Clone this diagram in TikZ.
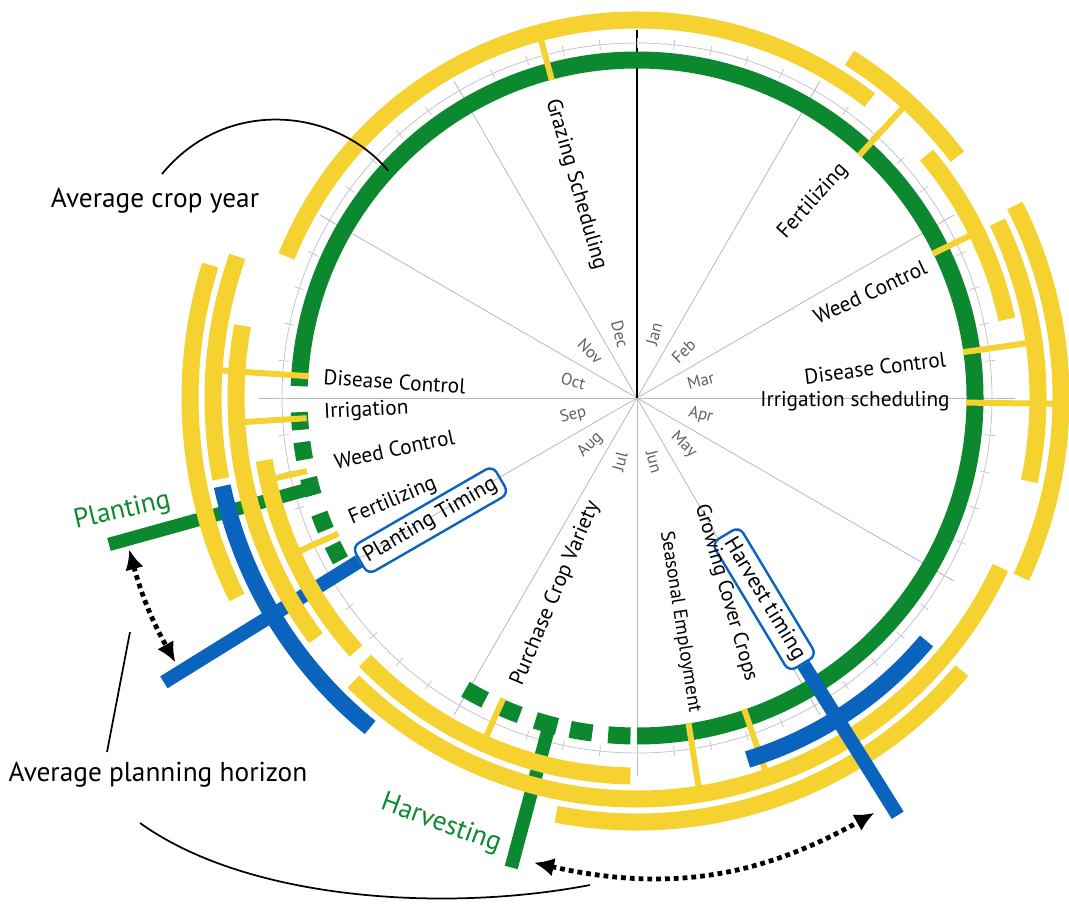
\documentclass[tikz,border=0pt]{standalone}
\usepackage{fontspec}
\setmainfont{PT Sans}
\usetikzlibrary{arrows.meta, positioning, calc}

\definecolor{cropgreen}{RGB}{12,137,46}
\definecolor{cropyellow}{RGB}{245,210,48}
\definecolor{cropblue}{RGB}{10,100,190}

\begin{document}
\begin{tikzpicture}[
            x=0.75pt, y=0.75pt,
            monthline/.style={draw=gray!55, line width=0.6pt},
            tickmark/.style={draw=gray!45, line width=0.6pt},
            ring/.style={draw=cropgreen, line width=12.75pt},
            band/.style={draw=cropyellow, line width=12.75pt},
            spoke/.style={draw=cropyellow, line width=4.5pt},
            bluebar/.style={draw=cropblue, line width=10.5pt},
            bluearc/.style={draw=cropblue, line width=12.75pt},
            greenbar/.style={draw=cropgreen, line width=10pt},
            activity/.style={font=\fontsize{16}{18}\selectfont, inner sep=1pt},
            month/.style={font=\fontsize{12.5}{14}\selectfont, text=gray!75!black, inner sep=0pt},
            timebox/.style={draw=cropblue, line width=1.8pt, rounded corners=6pt,
                            font=\fontsize{16.5}{18}\selectfont, inner sep=4.5pt},
            phase/.style={font=\fontsize{20.5}{24}\selectfont, text=cropgreen},
            note/.style={font=\fontsize{20.5}{24}\selectfont},
            leader/.style={draw=black, line width=1.3pt},
            dotarrow/.style={draw=black, line width=3.6pt, dash pattern=on 3.6pt off 3pt,
                             {Latex[length=15pt,width=14pt]}-{Latex[length=15pt,width=14pt]}}
        ]

        \useasboundingbox (0,0) rectangle (1069,907);

        \begin{scope}[shift={(637,509)}]

        % ===== MONTH GRID =====
        \foreach \a in {30,60,120,150,210,240,300,330}
            \draw[monthline] (0,0) -- (\a:366);
        \draw[monthline] (0,0) -- (0:378);
        \draw[monthline] (0,0) -- (180:378);
        \draw[monthline] (0,0) -- (270:378);
        \draw[black, line width=0.8pt] (0,0) -- (90:368);

        % week ticks on the thin circle
        \draw[tickmark] (0,0) circle[radius=355];
        \foreach \t in {0,6,...,354}
            \draw[tickmark] (\t:350) -- (\t:360);

        % ===== GREEN CROP YEAR =====
        \draw[ring] (-90:338) arc[start angle=-90, end angle=178, radius=338];
        \foreach \a in {183.9,189,195.2,201.5,207.2}
            \draw[ring] ({\a-1.5}:338) arc[start angle=\a-1.5, end angle=\a+1.5, radius=338];
        \foreach \a in {241.4,247.8,254.4,260.5,267}
            \draw[ring] ({\a-1.9}:338) arc[start angle=\a-1.9, end angle=\a+1.9, radius=338];

        % ===== PLANTING / HARVESTING BARS (behind the bands) =====
        \coordinate (plantEnd) at (195.5:548);
        \coordinate (harvEnd) at (255:486);
        \draw[greenbar] (195.5:331) -- (plantEnd);
        \draw[greenbar] (255:331) -- (harvEnd);

        \node[timebox, rotate=30] (plantTime) at (210.6:240) {Planting Timing};
        \coordinate (ptEnd) at (211:552);
        \draw[bluebar] (plantTime.west) -- (ptEnd);

        % ===== ACTIVITY SPOKES =====
        \draw[spoke] (105:329) -- (105:371);     % grazing
        \draw[spoke] (47.5:329) -- (47.5:394);   % fertilizing
        \draw[spoke] (26:329) -- (26:371);       % weed control
        \draw[spoke] (8:329) -- (8:394);         % disease control
        \draw[spoke] (-0.8:329) -- (-0.8:417);   % irrigation scheduling
        \draw[spoke] (176.2:329) -- (176.2:417); % disease control (left)
        \draw[spoke] (183.5:331) -- (183.5:394); % irrigation (left)
        \draw[spoke] (192.5:338) -- (192.5:371); % weed control (left)
        \draw[spoke] (204.4:328) -- (204.4:371); % fertilizing (left)
        \draw[spoke] (-114:329) -- (-114:371);   % purchase crop variety
        \draw[spoke] (-81:329) -- (-81:394);     % seasonal employment
        \draw[spoke] (-71:329) -- (-71:394);     % growing cover crops

        % ===== YELLOW ACTIVITY PERIODS =====
        % row 1 (r=378)
        \draw[band] (52:378) arc[start angle=52, end angle=158, radius=378];
        \draw[band] (12:378) arc[start angle=12, end angle=40, radius=378];
        \draw[band] (189.5:378) arc[start angle=189.5, end angle=222, radius=378];
        \draw[band] (224:378) arc[start angle=224, end angle=269, radius=378];
        % row 2 (r=401)
        \draw[band] (37:401) arc[start angle=37, end angle=58, radius=401];
        \draw[band] (-12:401) arc[start angle=-12, end angle=26, radius=401];
        \draw[band] (169.6:401) arc[start angle=169.6, end angle=216.8, radius=401];
        \draw[band] (225:401) arc[start angle=225, end angle=335, radius=401];
        % row 3 (r=424)
        \draw[band] (-25:424) arc[start angle=-25, end angle=27, radius=424];
        \draw[band] (160.5:424) arc[start angle=160.5, end angle=191, radius=424];
        \draw[band] (259:424) arc[start angle=259, end angle=320, radius=424];
        % row 4 (r=447)
        \draw[band] (162.7:447) arc[start angle=162.7, end angle=206.5, radius=447];

        % ===== BLUE PLANNING HORIZONS =====
        \draw[bluearc] (192:424) arc[start angle=192, end angle=231, radius=424];
        \draw[bluearc] (-73:378) arc[start angle=-73, end angle=-40, radius=378];

        \node[timebox, fill=white, rotate=-59] (harvTime) at (-57.7:238) {Harvest timing};
        \coordinate (htEnd) at (-58:492);
        \draw[bluebar] (harvTime.east) -- (htEnd);

        % ===== ACTIVITY LABELS =====
        \node[activity, rotate=-74] (grazing) at (106:222) {Grazing Scheduling};
        \node[activity, rotate=48] (fertR) at (48.2:264) {Fertilizing};
        \node[activity, rotate=25] (weedR) at (24.4:256) {Weed Control};
        \node[activity, rotate=7] (diseaseR) at (7.2:240) {Disease Control};
        \node[activity] (irrigR) at (-0.8:218) {Irrigation scheduling};
        \node[activity, rotate=-3.8] (diseaseL) at (176.2:243) {Disease Control};
        \node[activity, rotate=2.7] (irrigL) at (182.7:271) {Irrigation};
        \node[activity, rotate=12] (weedL) at (191.9:248) {Weed Control};
        \node[activity, rotate=23] (fertL) at (202.9:265) {Fertilizing};
        \node[activity, rotate=67] (purchase) at (247.4:212) {Purchase Crop Variety};
        \node[activity, font=\fontsize{14.5}{16}\selectfont, rotate=-81] (seasonal) at (-79.1:228) {Seasonal Employment};
        \node[activity, font=\fontsize{15.5}{17}\selectfont, rotate=-74] (cover) at (-65.5:214) {Growing Cover Crops};

        % ===== MONTHS =====
        \foreach \m/\a/\r in {Jan/75/75, Feb/45/45, Mar/15/15, Apr/-15/-15, May/-45/-45, Jun/-75/-75,
                              Jul/-105/75, Aug/-135/45, Sep/-165/15, Oct/165/-15, Nov/135/-45, Dec/105/-75}
            \node[month, rotate=\r] (m\m) at (\a:66) {\m};

        % ===== PHASE LABELS AND ARROWS =====
        \node[phase, rotate=13] (planting) at (192.4:527) {Planting};
        \node[phase, rotate=-20] (harvesting) at (245.3:469) {Harvesting};

        \coordinate (plantTip) at (196.6:530);
        \coordinate (ptTip) at (209.8:532);
        \draw[dotarrow] (plantTip) to[bend right=7] (ptTip);

        \coordinate (harvTip) at (257.5:476);
        \coordinate (htTip) at (299.8:478);
        \draw[dotarrow] (harvTip) to[bend right=21] (htTip);

        \coordinate (cyRing) at (137.6:337);
        \end{scope}

        % ===== NOTES =====
        \node[note] (cropyear) at (155,706) {Average crop year};
        \coordinate (cyStart) at (162,733);
        \draw[leader] (cyStart) .. controls (225,810) and (335,800) .. (cyRing);

        \node[note] (horizon) at (158,132) {Average planning horizon};
        \coordinate (hzTop) at (130,275);
        \coordinate (hzBot) at (107,155);
        \draw[leader] (hzTop) -- (hzBot);
        \coordinate (hzLeft) at (140,84);
        \coordinate (hzRight) at (590,22);
        \draw[leader] (hzLeft) .. controls (250,5) and (450,-5) .. (hzRight);

        \end{tikzpicture}
\end{document}
